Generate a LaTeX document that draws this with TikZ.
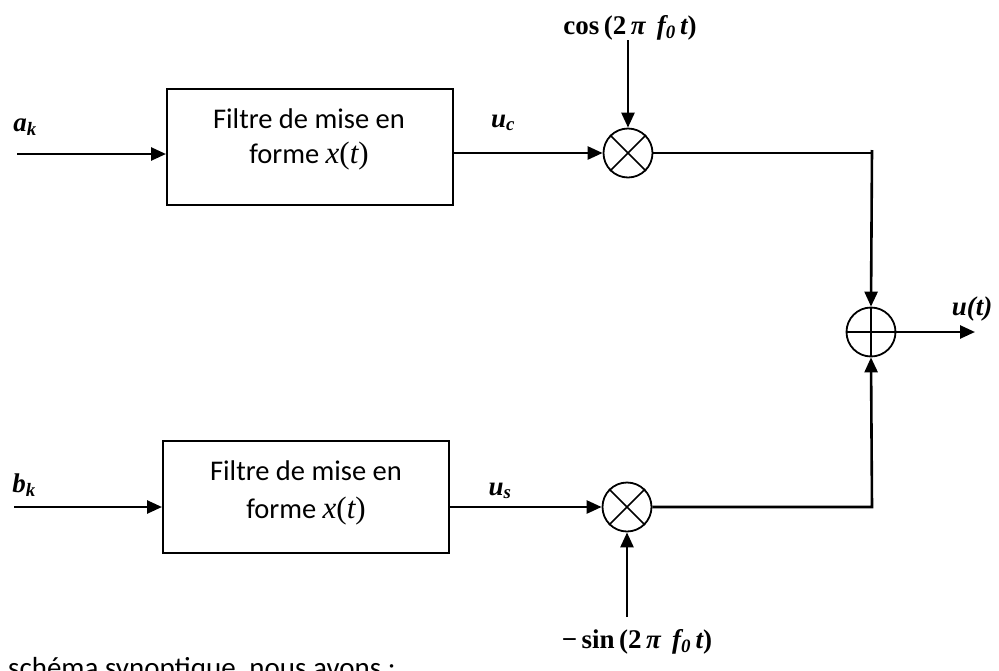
\documentclass[tikz,border=0pt]{standalone}
\usepackage{fontspec}
\setmainfont{Liberation Serif}
\newfontfamily\calfont{Carlito}
\newfontfamily\mathish{Liberation Serif}
\usetikzlibrary{arrows.meta}

\newcommand{\xoft}{{\mathish\fontsize{31}{35}\selectfont\itshape x\upshape(\itshape t\upshape)}}

\tikzset{
  wire/.style={line width=2.6pt},
  sig/.style={wire, -{Triangle[length=15pt,width=13pt]}},
  filterbox/.style={draw, line width=2pt, minimum width=286pt, inner sep=0pt},
  boxtext/.style={font=\calfont\fontsize{28.5}{35}\selectfont, align=center, inner sep=0pt},
  mixer/.style={draw, circle, line width=1.8pt, minimum size=49pt, inner sep=0pt},
  lab/.style={font=\fontsize{27}{30}\selectfont\bfseries\itshape, inner sep=0pt},
  funclab/.style={font=\fontsize{27}{30}\selectfont\bfseries, inner sep=0pt}
}

\begin{document}
\begin{tikzpicture}[x=1pt, y=-1pt]
  \useasboundingbox (0,0) rectangle (999,670);
  \clip (0,0) rectangle (999,670);

  % shaping filters
  \node[filterbox, minimum height=116pt] (boxA) at (310,147) {};
  \node[filterbox, minimum height=112pt] (boxB) at (306,497) {};
  \node[boxtext, anchor=base] (tA1) at (309,128) {Filtre de mise en};
  \node[boxtext, anchor=base] (tA2) at (309,163) {forme \xoft};
  \node[boxtext, anchor=base] (tB1) at (306,480) {Filtre de mise en};
  \node[boxtext, anchor=base] (tB2) at (306,518) {forme \xoft};

  % multipliers and adder
  \node[mixer] (mulA) at (628,153) {};
  \node[mixer] (mulB) at (627,507) {};
  \node[mixer] (add) at (871,332) {};
  \draw[line width=1.5pt] (mulA.north east) -- (mulA.south west) (mulA.north west) -- (mulA.south east);
  \draw[line width=1.5pt] (mulB.north east) -- (mulB.south west) (mulB.north west) -- (mulB.south east);
  \draw[line width=1.5pt] (add.north) -- (add.south) (add.west) -- (add.east);

  % free ends of the connectors
  \coordinate (inA) at (17,154);
  \coordinate (inB) at (14,507);
  \coordinate (cosTop) at (628,40);
  \coordinate (sinBot) at (627,617);
  \coordinate (jAtop) at (872,150);
  \coordinate (jA) at (872,153);
  \coordinate (jB) at (872,507);
  \coordinate (out) at (975,332);

  % connectors
  \draw[sig] (inA) -- (inA -| boxA.west);
  \draw[sig] (inB) -- (inB -| boxB.west);
  \draw[sig] (mulA.west -| boxA.east) -- (mulA.west);
  \draw[sig] (mulB.west -| boxB.east) -- (mulB.west);
  \draw[sig] (cosTop) -- (mulA.north);
  \draw[sig] (sinBot) -- (mulB.south);
  \draw[wire] (mulA.east) -- (jA);
  \draw[sig] (jAtop) -- (add.north);
  \draw[sig] (mulB.east) -- (jB) -- (add.south);
  \draw[sig] (add.east) -- (out);

  % signal labels
  \node[lab] (la) at (25,127) {a\textsubscript{k}};
  \node[lab] (lb) at (24,485) {b\textsubscript{k}};
  \node[lab] (luc) at (503,123) {u\textsubscript{c}};
  \node[lab] (lus) at (500,491) {u\textsubscript{s}};
  \node[lab] (lu) at (972,309) {u(t)};
  \node[funclab] (lcos) at (630,28) {cos\,(2\,{\itshape π\, f\textsubscript{0}\,t})};
  \node[funclab] (lsin) at (637,642) {−\,sin\,(2\,{\itshape π\, f\textsubscript{0}\,t})};

  % running text below the figure
  \node[anchor=base west, inner sep=0pt, font=\calfont\fontsize{29}{34}\selectfont] (txt) at (8,677) {schéma synoptique, nous avons :};
\end{tikzpicture}
\end{document}
